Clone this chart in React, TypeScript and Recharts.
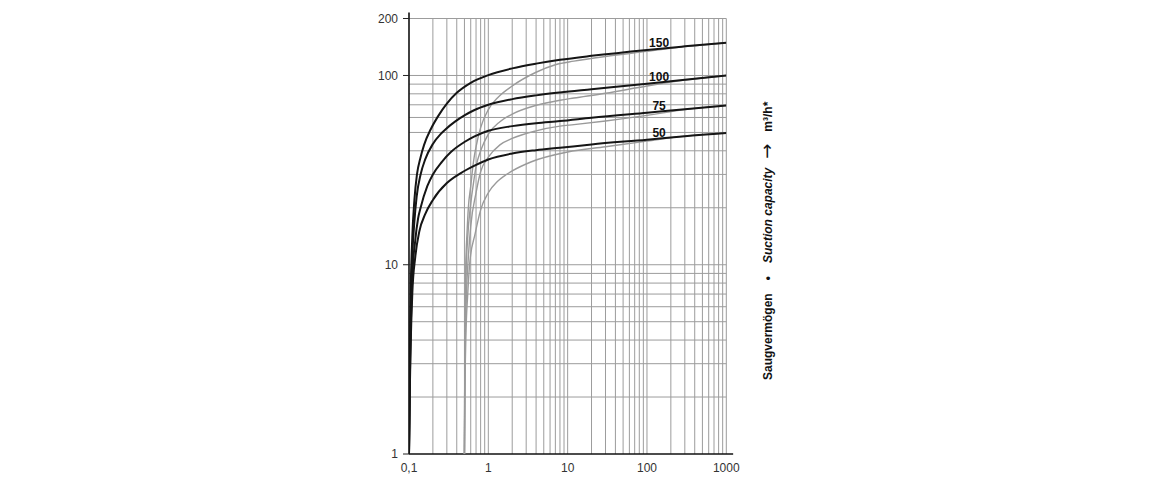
import React from 'react';
import { LineChart, Line, XAxis, YAxis, ReferenceLine, ReferenceDot } from 'recharts';

// pressure (mbar) / suction capacity (m³/h) pairs
const black150 = [
  [0.1, 1], [0.102, 2.5], [0.105, 7], [0.11, 14], [0.117, 22], [0.126, 30], [0.14, 37], [0.155, 43],
  [0.188, 52], [0.233, 61], [0.3, 71], [0.4, 81], [0.6, 91.5], [1, 100.5], [2, 109], [4, 115.5],
  [8, 121], [20, 127], [100, 136.5], [300, 142.5], [1000, 149],
];
const black100 = [
  [0.1, 1], [0.102, 2.5], [0.105, 5.5], [0.11, 11], [0.117, 17], [0.125, 23], [0.14, 30], [0.16, 36],
  [0.2, 43.5], [0.25, 49], [0.29, 52], [0.38, 57], [0.5, 61.5], [0.66, 65.5], [1, 70], [2, 75],
  [4, 78.5], [8, 81.3], [20, 84.5], [100, 90.4], [300, 95], [1000, 100],
];
const black75 = [
  [0.1, 1], [0.102, 2.2], [0.105, 4.5], [0.11, 8.5], [0.12, 13.5], [0.13, 17.5], [0.14, 20], [0.17, 26],
  [0.2, 30], [0.26, 35], [0.34, 39.5], [0.5, 44.5], [0.66, 47.5], [1, 51], [2, 54], [4, 56],
  [8, 57.4], [20, 59.8], [100, 63.6], [300, 66.3], [1000, 69.5],
];
const black50 = [
  [0.1, 1], [0.102, 2], [0.105, 3.8], [0.11, 7], [0.12, 11], [0.135, 15], [0.16, 18.5], [0.2, 22],
  [0.3, 27], [0.45, 30.5], [0.66, 33.3], [1, 36], [2, 38.7], [4, 40.3], [8, 41.5], [20, 43.2],
  [100, 45.8], [300, 47.8], [1000, 49.6],
];

// with gas ballast
const gray150 = [
  [0.5, 1], [0.503, 2], [0.51, 5], [0.52, 10], [0.54, 15], [0.56, 20], [0.6, 26], [0.65, 35],
  [0.7, 42], [0.8, 53], [1, 66], [1.34, 77], [2, 88], [4, 104], [7, 114], [12, 119],
  [30, 126], [100, 134], [300, 142], [1000, 149],
];
const gray100 = [
  [0.5, 1], [0.503, 2], [0.51, 4.5], [0.52, 8], [0.55, 14], [0.6, 21], [0.65, 27], [0.7, 33],
  [0.8, 40], [1, 49], [1.4, 57], [2, 62.5], [4, 69.5], [8, 74], [12, 76], [30, 80.5], [100, 88],
  [300, 94.5], [1000, 100],
];
const gray75 = [
  [0.5, 1], [0.505, 2], [0.51, 3.5], [0.53, 7], [0.56, 11], [0.6, 16], [0.7, 24], [0.8, 31],
  [1, 37], [1.4, 43], [2, 46.5], [4, 51], [8, 54], [12, 55], [30, 57.5], [100, 61.5], [300, 66],
  [1000, 69.5],
];
const gray50 = [
  [0.5, 1], [0.505, 1.8], [0.52, 4], [0.55, 7], [0.587, 10.5], [0.68, 14.5], [0.8, 19.5], [1, 24],
  [1.3, 27.5], [1.6, 29.5], [2, 31.3], [3.5, 35], [10, 39.4], [30, 42], [100, 45], [300, 47.8],
  [1000, 49.6],
];

const curveTags = [
  { label: '150', x: 142, y: 138.4 },
  { label: '100', x: 142, y: 91.5 },
  { label: '75', x: 142, y: 64.3 },
  { label: '50', x: 142, y: 46.2 },
];

const xTicks = [0.1, 1, 10, 100, 1000];
const yTicks = [1, 10, 100, 200];
const xDecades = [0.1, 1, 10, 100];
const yDecades = [1, 10, 100];
const steps = [2, 3, 4, 5, 6, 7, 8, 9, 10];

const xGrid = xDecades.flatMap((d) => steps.map((s) => +(d * s).toPrecision(3)));
const yGrid = yDecades.flatMap((d) => steps.map((s) => +(d * s).toPrecision(3))).filter((v) => v <= 200);

const toRows = (pts: number[][]) => pts.map(([x, y]) => ({ x, y }));

const W = 1144;
const H = 472;
const FONT = '"Liberation Sans", Arial, sans-serif';

export default function App() {
  const blacks = [black150, black100, black75, black50];
  const grays = [gray150, gray100, gray75, gray50];

  return (
    <div style={{ position: 'relative', width: W, height: H, fontFamily: FONT }}>
      <LineChart width={W} height={H} margin={{ top: 10.5, right: 425.7, left: 341, bottom: 0 }}>
        <XAxis
          dataKey="x"
          type="number"
          scale="log"
          domain={[0.1, 1000]}
          allowDataOverflow
          ticks={xTicks}
          tickFormatter={(v) => String(v).replace('.', ',')}
          axisLine={false}
          tickLine={false}
          tickMargin={3}
          height={26}
          tick={{ fill: '#333', fontSize: 12, fontFamily: FONT }}
        />
        <YAxis
          type="number"
          scale="log"
          domain={[1, 200]}
          allowDataOverflow
          ticks={yTicks}
          axisLine={false}
          tickLine={{ stroke: '#222' }}
          tickSize={6}
          tickMargin={5}
          width={60}
          tick={{ fill: '#333', fontSize: 12, fontFamily: FONT }}
        />
        {xGrid.map((v) => (
          <ReferenceLine key={'gx' + v} x={v} stroke="#9c9c9c" strokeWidth={1} />
        ))}
        {yGrid.map((v) => (
          <ReferenceLine key={'gy' + v} y={v} stroke="#9c9c9c" strokeWidth={1} />
        ))}
        <ReferenceLine segment={[{ x: 0.1, y: 1 }, { x: 0.1, y: 215 }]} stroke="#111" strokeWidth={1.6} ifOverflow="visible" />
        <ReferenceLine segment={[{ x: 0.1, y: 1 }, { x: 1220, y: 1 }]} stroke="#111" strokeWidth={1.6} ifOverflow="visible" />
        {grays.map((pts, i) => (
          <Line
            key={'g' + i}
            data={toRows(pts)}
            dataKey="y"
            type="monotone"
            stroke="#9a9a9a"
            strokeWidth={1.4}
            dot={false}
            isAnimationActive={false}
          />
        ))}
        {blacks.map((pts, i) => (
          <Line
            key={'b' + i}
            data={toRows(pts)}
            dataKey="y"
            type="monotone"
            stroke="#151515"
            strokeWidth={2}
            dot={false}
            isAnimationActive={false}
          />
        ))}
        {curveTags.map((t) => (
          <ReferenceDot
            key={t.label}
            x={t.x}
            y={t.y}
            r={0}
            stroke="none"
            fill="none"
            label={{ value: t.label, position: 'top', offset: 2, fill: '#111', fontSize: 12, fontWeight: 'bold', fontFamily: FONT }}
          />
        ))}
      </LineChart>
      <svg style={{ position: 'absolute', left: 0, top: 0, pointerEvents: 'none' }} width={W} height={H}>
        <text
          transform="translate(763.5, 372) rotate(-90)"
          fontSize={12}
          fontWeight="bold"
          fill="#111"
          fontFamily={FONT}
        >
          <tspan>Saugvermögen</tspan>
          <tspan dx={13}>•</tspan>
          <tspan dx={13} fontStyle="italic">Suction capacity</tspan>
          <tspan dx={9} fontSize={18} fontWeight="normal" fontFamily="DejaVu Sans" dy={1}>→</tspan>
          <tspan dx={12} dy={-1}>m³/h*</tspan>
        </text>
      </svg>
    </div>
  );
}
